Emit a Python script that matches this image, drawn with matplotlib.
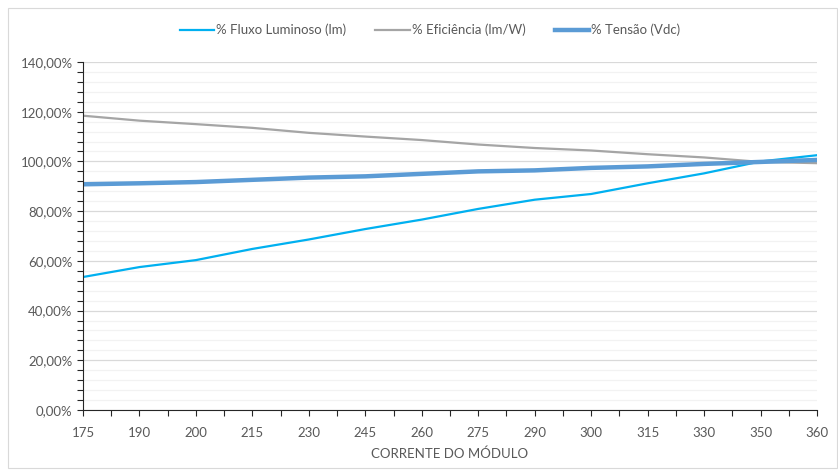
import numpy as np
import matplotlib
matplotlib.use("Agg")
import matplotlib.pyplot as plt
from matplotlib.ticker import FuncFormatter, MultipleLocator
from matplotlib.patches import Rectangle

plt.rcParams['font.family'] = ['Lato', 'DejaVu Sans']

correntes = ["175", "190", "200", "215", "230", "245", "260", "275", "290", "300", "315", "330", "350", "360"]
fluxo = [53.5, 57.5, 60.3, 64.8, 68.6, 72.8, 76.6, 80.9, 84.6, 86.9, 91.2, 95.2, 100.0, 102.5]
eficiencia = [118.4, 116.4, 115.0, 113.5, 111.5, 110.0, 108.6, 106.8, 105.4, 104.4, 102.9, 101.6, 99.8, 99.3]
tensao = [90.8, 91.2, 91.7, 92.6, 93.5, 94.0, 95.0, 96.0, 96.4, 97.4, 98.0, 99.0, 99.8, 100.6]
nomes = ["% Fluxo Luminoso (lm)", "% Eficiência (lm/W)", "% Tensão (Vdc)"]

TXT = "#595959"
fig = plt.figure(figsize=(8.38, 4.71), dpi=100)
fig.patches.append(Rectangle((8 / 838, 3 / 471), 829 / 838, 460 / 471, transform=fig.transFigure,
                             fill=False, ec="#D9D9D9", lw=0.8))
ax = fig.add_axes([83 / 838, 61 / 471, 734 / 838, 348 / 471])

x = np.arange(len(correntes))
ax.plot(x, np.array(fluxo) / 100, color="#00B0F0", lw=1.6, label=nomes[0])
ax.plot(x, np.array(eficiencia) / 100, color="#A5A5A5", lw=1.6, label=nomes[1])
ax.plot(x, np.array(tensao) / 100, color="#5B9BD5", lw=3.2, label=nomes[2])

ax.set_xlim(0, len(correntes) - 1)
ax.set_ylim(0, 1.4)
ax.set_xticks(x)
ax.set_xticklabels(correntes)
ax.xaxis.set_minor_locator(MultipleLocator(0.5))
ax.yaxis.set_major_locator(MultipleLocator(0.2))
ax.yaxis.set_minor_locator(MultipleLocator(0.04))
ax.yaxis.set_major_formatter(FuncFormatter(lambda v, p: f"{v * 100:.2f}%".replace(".", ",")))
ax.grid(axis="y", which="major", color="#D9D9D9", lw=0.9)
ax.grid(axis="y", which="minor", color="#F2F2F2", lw=0.9)
ax.set_axisbelow(True)
for s in ["top", "right"]:
    ax.spines[s].set_visible(False)
ax.spines["left"].set_color("#262626")
ax.spines["bottom"].set_color("#262626")
ax.tick_params(which="both", direction="out", color="#262626", length=4, width=0.8,
               labelcolor=TXT, labelsize=9.5)
ax.tick_params(axis="x", which="major", pad=8)
ax.set_xlabel("CORRENTE DO MÓDULO", color=TXT, fontsize=9.5, labelpad=6)

fig.legend(loc="center", bbox_to_anchor=(430 / 838, 1 - 30 / 471), ncol=3, frameon=False,
           fontsize=9.5, handlelength=2.6, handletextpad=0.15, columnspacing=2.2,
           labelcolor=TXT)

fig.savefig("out.png", dpi=100)
